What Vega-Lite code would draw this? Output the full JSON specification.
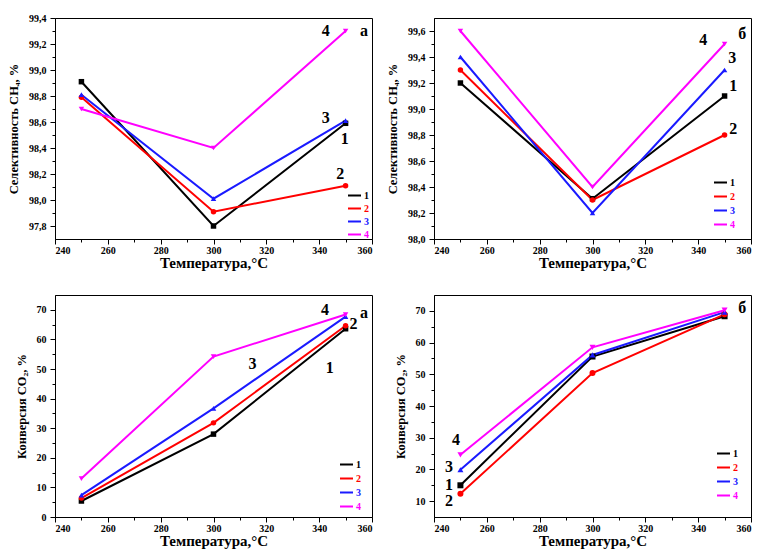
{
  "$schema": "https://vega.github.io/schema/vega-lite/v6.json",
  "padding": {"left": 7, "top": 12, "right": 0, "bottom": 4},
  "autosize": {"type": "pad"},
  "background": "white",
  "datasets": {
    "a_sel": [
      {"T": 250, "s": "1", "v": 98.91}, {"T": 300, "s": "1", "v": 97.8}, {"T": 350, "s": "1", "v": 98.59},
      {"T": 250, "s": "2", "v": 98.79}, {"T": 300, "s": "2", "v": 97.91}, {"T": 350, "s": "2", "v": 98.11},
      {"T": 250, "s": "3", "v": 98.81}, {"T": 300, "s": "3", "v": 98.01}, {"T": 350, "s": "3", "v": 98.61},
      {"T": 250, "s": "4", "v": 98.7}, {"T": 300, "s": "4", "v": 98.4}, {"T": 350, "s": "4", "v": 99.3}
    ],
    "b_sel": [
      {"T": 250, "s": "1", "v": 99.2}, {"T": 300, "s": "1", "v": 98.31}, {"T": 350, "s": "1", "v": 99.1},
      {"T": 250, "s": "2", "v": 99.3}, {"T": 300, "s": "2", "v": 98.3}, {"T": 350, "s": "2", "v": 98.8},
      {"T": 250, "s": "3", "v": 99.4}, {"T": 300, "s": "3", "v": 98.2}, {"T": 350, "s": "3", "v": 99.3},
      {"T": 250, "s": "4", "v": 99.6}, {"T": 300, "s": "4", "v": 98.4}, {"T": 350, "s": "4", "v": 99.5}
    ],
    "a_conv": [
      {"T": 250, "s": "1", "v": 5.4}, {"T": 300, "s": "1", "v": 28.0}, {"T": 350, "s": "1", "v": 63.6},
      {"T": 250, "s": "2", "v": 6.4}, {"T": 300, "s": "2", "v": 31.8}, {"T": 350, "s": "2", "v": 64.6},
      {"T": 250, "s": "3", "v": 7.4}, {"T": 300, "s": "3", "v": 36.7}, {"T": 350, "s": "3", "v": 67.7},
      {"T": 250, "s": "4", "v": 13.0}, {"T": 300, "s": "4", "v": 54.2}, {"T": 350, "s": "4", "v": 68.4}
    ],
    "b_conv": [
      {"T": 250, "s": "1", "v": 15.0}, {"T": 300, "s": "1", "v": 55.6}, {"T": 350, "s": "1", "v": 68.3},
      {"T": 250, "s": "2", "v": 12.3}, {"T": 300, "s": "2", "v": 50.4}, {"T": 350, "s": "2", "v": 68.9},
      {"T": 250, "s": "3", "v": 19.9}, {"T": 300, "s": "3", "v": 56.1}, {"T": 350, "s": "3", "v": 69.6},
      {"T": 250, "s": "4", "v": 24.6}, {"T": 300, "s": "4", "v": 58.5}, {"T": 350, "s": "4", "v": 70.2}
    ],
    "ann_a_sel": [
      {"T": 342.5, "v": 99.3, "label": "4"}, {"T": 357, "v": 99.3, "label": "а"},
      {"T": 342.5, "v": 98.63, "label": "3"}, {"T": 349.7, "v": 98.47, "label": "1"},
      {"T": 348, "v": 98.2, "label": "2"}
    ],
    "ann_b_sel": [
      {"T": 341.9, "v": 99.53, "label": "4"}, {"T": 356.7, "v": 99.58, "label": "б"},
      {"T": 352.9, "v": 99.39, "label": "3"}, {"T": 353.3, "v": 99.18, "label": "1"},
      {"T": 353.3, "v": 98.85, "label": "2"}
    ],
    "ann_a_conv": [
      {"T": 342.2, "v": 70, "label": "4"}, {"T": 357, "v": 69, "label": "а"},
      {"T": 353, "v": 65.3, "label": "2"}, {"T": 314.8, "v": 51.7, "label": "3"},
      {"T": 344, "v": 50.4, "label": "1"}
    ],
    "ann_b_conv": [
      {"T": 356.7, "v": 71, "label": "б"}, {"T": 248.3, "v": 29.3, "label": "4"},
      {"T": 245.7, "v": 20.7, "label": "3"}, {"T": 245.7, "v": 15.2, "label": "1"},
      {"T": 245.7, "v": 9.9, "label": "2"}
    ]
  },
  "columns": 2,
  "spacing": {"row": 56, "column": 62},
  "bounds": "flush",
  "resolve": {
    "scale": {"color": "independent", "x": "independent", "y": "independent"},
    "legend": {"color": "independent"}
  },
  "config": {
    "view": {"stroke": "black", "strokeWidth": 1},
    "axis": {
      "grid": false, "domainColor": "black", "domainWidth": 1, "tickColor": "black", "tickWidth": 1,
      "labelFont": "Liberation Serif", "labelFontWeight": "bold", "labelFontSize": 10, "labelColor": "black",
      "titleFont": "Liberation Serif", "titleFontWeight": "bold", "titleColor": "black", "labelOverlap": false
    },
    "axisX": {"titleFontSize": 15, "labelPadding": 1, "titlePadding": 0},
    "axisY": {"titleFontSize": 12.5, "labelPadding": 4, "titlePadding": 8},
    "legend": {
      "orient": "none", "padding": 0, "rowPadding": 1, "symbolType": "stroke", "symbolSize": 169,
      "symbolStrokeWidth": 2, "labelFont": "Liberation Serif", "labelFontWeight": "bold", "labelFontSize": 10,
      "labelOffset": 2, "title": null,
      "labelColor": {"expr": "datum.label === '1' ? 'black' : datum.label === '2' ? '#ff0000' : datum.label === '3' ? '#1a1aff' : '#ff00ff'"}
    },
    "text": {"font": "Liberation Serif", "fontWeight": "bold", "fontSize": 16, "color": "black"}
  },
  "concat": [
    {
      "width": 317, "height": 221,
      "layer": [
        {
          "data": {"name": "a_sel"},
          "mark": {"type": "line", "strokeWidth": 2},
          "encoding": {
            "x": {"field": "T", "type": "quantitative", "scale": {"domain": [240, 360], "nice": false, "zero": false},
              "axis": {"title": "Температура,°C", "tickCount": 100, "labelOverlap": false, "values": [240, 250, 260, 270, 280, 290, 300, 310, 320, 330, 340, 350, 360],
                "labelExpr": "datum.value % 20 == 0 ? format(datum.value, 'd') : ''",
                "tickSize": {"condition": {"test": "datum.value % 20 == 0", "value": 5}, "value": 3}}},
            "y": {"field": "v", "type": "quantitative", "scale": {"domain": [97.7, 99.4], "nice": false, "zero": false},
              "axis": {"title": "Селективность CH₄, %", "tickCount": 100, "labelOverlap": false, "values": [97.8, 97.9, 98.0, 98.1, 98.2, 98.3, 98.4, 98.5, 98.6, 98.7, 98.8, 98.9, 99.0, 99.1, 99.2, 99.3, 99.4],
                "labelExpr": "round(datum.value * 10) % 2 == 0 ? replace(format(datum.value, '.1f'), '.', ',') : ''",
                "tickSize": {"condition": {"test": "round(datum.value * 10) % 2 == 0", "value": 5}, "value": 3}}},
            "color": {"field": "s", "type": "nominal", "scale": {"domain": ["1", "2", "3", "4"], "range": ["#000000", "#ff0000", "#1a1aff", "#ff00ff"]},
              "legend": {"legendX": 292, "legendY": 170, "rowPadding": -2}}
          }
        },
        {
          "data": {"name": "a_sel"},
          "mark": {"type": "point", "filled": true, "size": 30, "opacity": 1},
          "encoding": {
            "x": {"field": "T", "type": "quantitative"},
            "y": {"field": "v", "type": "quantitative"},
            "color": {"field": "s", "type": "nominal"},
            "shape": {"field": "s", "type": "nominal", "scale": {"domain": ["1", "2", "3", "4"], "range": ["square", "circle", "triangle-up", "triangle-down"]}, "legend": null}
          }
        },
        {
          "data": {"name": "ann_a_sel"},
          "mark": {"type": "text"},
          "encoding": {
            "x": {"field": "T", "type": "quantitative"},
            "y": {"field": "v", "type": "quantitative"},
            "text": {"field": "label"}
          }
        }
      ]
    },
    {
      "width": 317, "height": 221,
      "layer": [
        {
          "data": {"name": "b_sel"},
          "mark": {"type": "line", "strokeWidth": 2},
          "encoding": {
            "x": {"field": "T", "type": "quantitative", "scale": {"domain": [240, 360], "nice": false, "zero": false},
              "axis": {"title": "Температура,°C", "tickCount": 100, "labelOverlap": false, "values": [240, 250, 260, 270, 280, 290, 300, 310, 320, 330, 340, 350, 360],
                "labelExpr": "datum.value % 20 == 0 ? format(datum.value, 'd') : ''",
                "tickSize": {"condition": {"test": "datum.value % 20 == 0", "value": 5}, "value": 3}}},
            "y": {"field": "v", "type": "quantitative", "scale": {"domain": [98.0, 99.7], "nice": false, "zero": false},
              "axis": {"title": "Селективность CH₄, %", "tickCount": 100, "labelOverlap": false, "values": [98.0, 98.1, 98.2, 98.3, 98.4, 98.5, 98.6, 98.7, 98.8, 98.9, 99.0, 99.1, 99.2, 99.3, 99.4, 99.5, 99.6],
                "labelExpr": "round(datum.value * 10) % 2 == 0 ? replace(format(datum.value, '.1f'), '.', ',') : ''",
                "tickSize": {"condition": {"test": "round(datum.value * 10) % 2 == 0", "value": 5}, "value": 3}}},
            "color": {"field": "s", "type": "nominal", "scale": {"domain": ["1", "2", "3", "4"], "range": ["#000000", "#ff0000", "#1a1aff", "#ff00ff"]},
              "legend": {"legendX": 279, "legendY": 157}}
          }
        },
        {
          "data": {"name": "b_sel"},
          "mark": {"type": "point", "filled": true, "size": 30, "opacity": 1},
          "encoding": {
            "x": {"field": "T", "type": "quantitative"},
            "y": {"field": "v", "type": "quantitative"},
            "color": {"field": "s", "type": "nominal"},
            "shape": {"field": "s", "type": "nominal", "scale": {"domain": ["1", "2", "3", "4"], "range": ["square", "circle", "triangle-up", "triangle-down"]}, "legend": null}
          }
        },
        {
          "data": {"name": "ann_b_sel"},
          "mark": {"type": "text"},
          "encoding": {
            "x": {"field": "T", "type": "quantitative"},
            "y": {"field": "v", "type": "quantitative"},
            "text": {"field": "label"}
          }
        }
      ]
    },
    {
      "width": 317, "height": 222,
      "layer": [
        {
          "data": {"name": "a_conv"},
          "mark": {"type": "line", "strokeWidth": 2},
          "encoding": {
            "x": {"field": "T", "type": "quantitative", "scale": {"domain": [240, 360], "nice": false, "zero": false},
              "axis": {"title": "Температура,°C", "tickCount": 100, "labelOverlap": false, "values": [240, 250, 260, 270, 280, 290, 300, 310, 320, 330, 340, 350, 360],
                "labelExpr": "datum.value % 20 == 0 ? format(datum.value, 'd') : ''",
                "tickSize": {"condition": {"test": "datum.value % 20 == 0", "value": 5}, "value": 3}}},
            "y": {"field": "v", "type": "quantitative", "scale": {"domain": [0, 75], "nice": false, "zero": false},
              "axis": {"title": "Конверсия CO₂, %", "tickCount": 100, "labelOverlap": false, "values": [0, 5, 10, 15, 20, 25, 30, 35, 40, 45, 50, 55, 60, 65, 70],
                "labelExpr": "datum.value % 10 == 0 ? format(datum.value, 'd') : ''",
                "tickSize": {"condition": {"test": "datum.value % 10 == 0", "value": 5}, "value": 3}}},
            "color": {"field": "s", "type": "nominal", "scale": {"domain": ["1", "2", "3", "4"], "range": ["#000000", "#ff0000", "#1a1aff", "#ff00ff"]},
              "legend": {"legendX": 284, "legendY": 162}}
          }
        },
        {
          "data": {"name": "a_conv"},
          "mark": {"type": "point", "filled": true, "size": 30, "opacity": 1},
          "encoding": {
            "x": {"field": "T", "type": "quantitative"},
            "y": {"field": "v", "type": "quantitative"},
            "color": {"field": "s", "type": "nominal"},
            "shape": {"field": "s", "type": "nominal", "scale": {"domain": ["1", "2", "3", "4"], "range": ["square", "circle", "triangle-up", "triangle-down"]}, "legend": null}
          }
        },
        {
          "data": {"name": "ann_a_conv"},
          "mark": {"type": "text"},
          "encoding": {
            "x": {"field": "T", "type": "quantitative"},
            "y": {"field": "v", "type": "quantitative"},
            "text": {"field": "label"}
          }
        }
      ]
    },
    {
      "width": 317, "height": 222,
      "layer": [
        {
          "data": {"name": "b_conv"},
          "mark": {"type": "line", "strokeWidth": 2},
          "encoding": {
            "x": {"field": "T", "type": "quantitative", "scale": {"domain": [240, 360], "nice": false, "zero": false},
              "axis": {"title": "Температура,°C", "tickCount": 100, "labelOverlap": false, "values": [240, 250, 260, 270, 280, 290, 300, 310, 320, 330, 340, 350, 360],
                "labelExpr": "datum.value % 20 == 0 ? format(datum.value, 'd') : ''",
                "tickSize": {"condition": {"test": "datum.value % 20 == 0", "value": 5}, "value": 3}}},
            "y": {"field": "v", "type": "quantitative", "scale": {"domain": [5, 75], "nice": false, "zero": false},
              "axis": {"title": "Конверсия CO₂, %", "tickCount": 100, "labelOverlap": false, "values": [10, 15, 20, 25, 30, 35, 40, 45, 50, 55, 60, 65, 70],
                "labelExpr": "datum.value % 10 == 0 ? format(datum.value, 'd') : ''",
                "tickSize": {"condition": {"test": "datum.value % 10 == 0", "value": 5}, "value": 3}}},
            "color": {"field": "s", "type": "nominal", "scale": {"domain": ["1", "2", "3", "4"], "range": ["#000000", "#ff0000", "#1a1aff", "#ff00ff"]},
              "legend": {"legendX": 282, "legendY": 151}}
          }
        },
        {
          "data": {"name": "b_conv"},
          "mark": {"type": "point", "filled": true, "size": 36, "opacity": 1},
          "encoding": {
            "x": {"field": "T", "type": "quantitative"},
            "y": {"field": "v", "type": "quantitative"},
            "color": {"field": "s", "type": "nominal"},
            "shape": {"field": "s", "type": "nominal", "scale": {"domain": ["1", "2", "3", "4"], "range": ["square", "circle", "triangle-up", "triangle-down"]}, "legend": null}
          }
        },
        {
          "data": {"name": "ann_b_conv"},
          "mark": {"type": "text"},
          "encoding": {
            "x": {"field": "T", "type": "quantitative"},
            "y": {"field": "v", "type": "quantitative"},
            "text": {"field": "label"}
          }
        }
      ]
    }
  ]
}
